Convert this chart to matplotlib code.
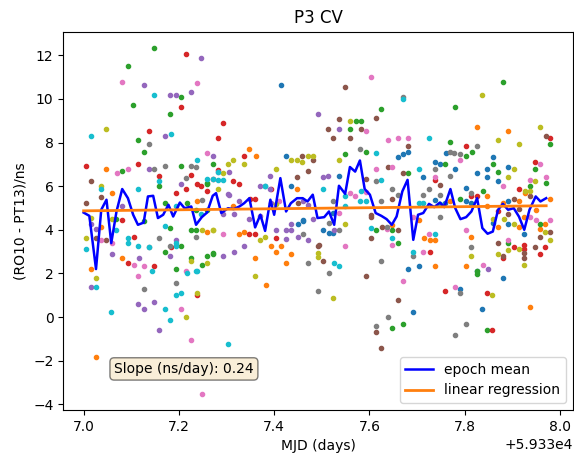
import numpy as np
import matplotlib
matplotlib.use('Agg')
import matplotlib.pyplot as plt

# MJD base, all times below are fractions of a day after it
mjd0 = 59337.0

# single-difference values (ns), one list pair per plotted group (colour C0..C9)
t_c0 = [0.414, 0.425, 0.436, 0.536, 0.659, 0.671, 0.681, 0.713, 0.737, 0.748, 0.760, 0.780, 0.826, 0.847,
        0.859, 0.847, 0.891, 0.870, 0.738, 0.759, 0.803, 0.803, 0.814, 0.891, 0.859, 0.891, 0.925, 0.826,
        0.880, 0.837, 0.692, 0.681, 0.703, 0.791, 0.381, 0.449, 0.460, 0.502, 0.515, 0.524, 0.524, 0.461]
v_c0 = [10.62, 7.39, 5.99, 6.49, 7.32, 7.49, 7.58, 6.40, 7.11, 7.01, 7.52, 6.78, 6.60, 6.78,
        7.32, 6.40, 6.90, 6.22, 5.38, 5.25, 5.90, 5.30, 5.22, 5.33, 4.31, 4.26, 3.82, 2.09,
        1.81, 0.39, 0.21, 2.20, 2.32, 1.29, 5.99, 4.28, 4.46, 4.00, 3.85, 4.77, 3.85, 4.41]

t_c1 = [0.048, 0.059, 0.037, 0.081, 0.016, 0.026, 0.237, 0.314, 0.347, 0.361, 0.448, 0.259, 0.326, 0.337,
        0.393, 0.414, 0.404, 0.436, 0.425, 0.360, 0.382, 0.648, 0.703, 0.714, 0.727, 0.738, 0.738, 0.803,
        0.826, 0.891, 0.847, 0.770, 0.880, 0.915, 0.980, 0.847, 0.949, 0.925, 0.969, 0.959, 0.870, 0.913,
        0.814, 0.926, 0.936]
v_c1 = [6.80, 5.68, 4.15, 2.70, 2.20, -1.84, 5.30, 5.07, 7.70, 7.39, 5.87, 3.89, 3.82, 3.92,
        3.27, 3.27, 3.00, 2.90, 2.47, 2.70, 1.48, 4.23, 4.46, 3.62, 3.51, 3.51, 2.32, 2.32,
        8.72, 8.53, 5.53, 5.30, 5.22, 5.33, 5.41, 5.07, 4.92, 4.58, 4.26, 4.03, 4.15, 4.15,
        3.69, 5.70, 0.48]

t_c2 = [0.148, 0.094, 0.204, 0.104, 0.182, 0.115, 0.126, 0.080, 0.205, 0.272, 0.158, 0.259, 0.170, 0.216,
        0.126, 0.069, 0.182, 0.170, 0.204, 0.193, 0.226, 0.259, 0.248, 0.272, 0.259, 0.236, 0.259, 0.226,
        0.236, 0.271, 0.624, 0.780, 0.880, 0.571, 0.582, 0.559, 0.549, 0.592, 0.769, 0.815, 0.802, 0.759,
        0.859, 0.869, 0.948, 0.980, 0.970, 0.938, 0.681, 0.838, 0.791, 0.614, 0.648, 0.660, 0.891, 0.959,
        0.826, 0.648, 0.670, 0.847, 0.826]
v_c2 = [12.32, 11.51, 10.09, 9.72, 9.29, 8.13, 7.59, 6.69, 6.94, 7.01, 5.99, 6.11, 5.22, 5.22,
        4.41, 4.49, 4.08, 3.00, 3.27, 2.20, 2.70, 2.78, 2.39, 2.93, 4.92, 4.92, 6.14, 4.00,
        4.00, 2.90, 9.52, 9.63, 10.80, 9.01, 9.01, 8.63, 7.49, 7.58, 8.01, 7.58, 7.39, 7.01,
        7.01, 6.67, 6.78, 7.93, 6.15, 5.99, 6.60, 5.79, 5.41, 4.00, 4.00, 3.39, 3.39, 4.26,
        1.98, -0.51, -0.31, -0.60, 2.12]

t_c3 = [0.214, 0.204, 0.293, 0.137, 0.282, 0.005, 0.115, 0.336, 0.158, 0.226, 0.237, 0.247, 0.259, 0.215,
        0.193, 0.282, 0.314, 0.326, 0.271, 0.393, 0.350, 0.360, 0.081, 0.105, 0.094, 0.148, 0.184, 0.237,
        0.348, 0.360, 0.404, 0.802, 0.980, 0.948, 0.737, 0.915, 0.826, 0.814, 0.870, 0.727, 0.903, 0.925,
        0.925, 0.959, 0.969, 0.880, 0.759, 0.847, 0.858]
v_c3 = [12.04, 9.63, 8.91, 8.53, 8.21, 6.94, 7.03, 7.39, 6.49, 6.52, 6.11, 5.99, 5.79, 5.88,
        5.70, 6.75, 6.22, 6.11, 6.33, 5.87, 5.41, 5.41, 4.43, 3.69, 2.47, 2.32, 3.19, 0.99,
        3.82, 3.82, 3.62, 7.82, 8.21, 7.11, 6.29, 5.87, 5.53, 5.53, 4.87, 3.00, 3.21, 3.31,
        3.11, 2.90, 3.21, 2.70, 1.20, 1.10, -0.60]

t_c4 = [0.247, 0.126, 0.182, 0.193, 0.226, 0.492, 0.170, 0.536, 0.272, 0.137, 0.205, 0.304, 0.326, 0.370,
        0.392, 0.392, 0.081, 0.016, 0.027, 0.059, 0.116, 0.193, 0.182, 0.115, 0.126, 0.147, 0.159, 0.016,
        0.293, 0.315, 0.348, 0.371, 0.435, 0.481, 0.404, 0.425, 0.449, 0.470, 0.337, 0.293, 0.315, 0.305,
        0.305, 0.460, 0.470, 0.393, 0.436, 0.425, 0.503, 0.514, 0.526, 0.848]
v_c4 = [11.89, 10.62, 10.19, 10.19, 10.33, 9.29, 8.31, 8.63, 7.39, 6.78, 6.11, 5.63, 5.32, 5.99,
        6.49, 5.86, 5.07, 4.28, 4.03, 2.90, 2.70, 3.54, 2.81, 0.59, 0.39, 0.68, -0.60, 1.40,
        4.72, 4.72, 4.49, 4.64, 4.28, 4.49, 4.00, 4.00, 3.69, 3.54, 3.27, 2.81, 3.00, 6.67,
        5.61, 5.30, 5.15, 5.22, 3.97, 3.57, 6.40, 6.49, 4.00, 2.20]

t_c5 = [0.016, 0.037, 0.005, 0.448, 0.459, 0.470, 0.482, 0.027, 0.048, 0.449, 0.549, 0.536, 0.614, 0.514,
        0.582, 0.524, 0.559, 0.681, 0.638, 0.592, 0.670, 0.648, 0.748, 0.970, 0.603, 0.603, 0.626, 0.603,
        0.660, 0.491, 0.503, 0.592, 0.659, 0.614, 0.624, 0.936, 0.903, 0.891, 0.913, 0.959, 0.980, 0.870,
        0.925, 0.925, 0.947, 0.880, 0.494]
v_c5 = [6.22, 5.50, 5.22, 6.42, 7.39, 6.69, 7.21, 3.62, 3.51, 5.22, 10.53, 9.09, 9.11, 8.63,
        8.63, 8.21, 8.21, 7.82, 6.90, 6.34, 6.60, 5.41, 6.06, 8.31, 4.69, 4.58, 4.15, 3.62,
        4.00, 3.27, 2.58, 1.90, 0.78, -0.69, -1.41, 5.53, 5.41, 4.72, 4.95, 3.69, 3.92, 3.39,
        2.93, 2.70, 3.21, 2.81, 3.31]

t_c6 = [0.081, 0.237, 0.070, 0.094, 0.259, 0.037, 0.059, 0.105, 0.115, 0.126, 0.204, 0.226, 0.248, 0.215,
        0.283, 0.293, 0.603, 0.592, 0.638, 0.659, 0.681, 0.614, 0.648, 0.737, 0.790, 0.880, 0.958, 0.970,
        0.938, 0.559, 0.570, 0.536, 0.549, 0.636, 0.648, 0.692, 0.725, 0.713, 0.670, 0.780, 0.803, 0.937,
        0.949, 0.980, 0.891, 0.838, 0.592, 0.411]
v_c6 = [10.80, 10.71, 6.60, 6.80, 7.50, 3.51, 3.39, 2.39, 1.90, 2.32, 0.39, -1.03, -3.54, 2.12,
        6.67, 3.82, 11.00, 8.53, 8.13, 8.21, 8.21, 6.78, 6.90, 6.40, 7.21, 5.99, 7.01, 6.40,
        6.29, 5.71, 5.53, 4.77, 3.24, 4.03, 3.31, 4.61, 3.82, 3.00, 1.66, 1.40, 4.00, 4.58,
        4.46, 4.43, 3.54, 2.39, 5.72, 5.30]

t_c7 = [0.137, 0.147, 0.170, 0.226, 0.215, 0.236, 0.137, 0.182, 0.159, 0.236, 0.126, 0.193, 0.248, 0.460,
        0.470, 0.491, 0.670, 0.581, 0.778, 0.791, 0.826, 0.770, 0.737, 0.770, 0.614, 0.624, 0.524, 0.713,
        0.726, 0.648, 0.660, 0.748, 0.814, 0.536, 0.515, 0.636, 0.748, 0.692, 0.625, 0.515, 0.814, 0.638,
        0.614, 0.791, 0.802, 0.780]
v_c7 = [7.93, 6.78, 6.94, 6.94, 6.37, 6.90, 3.21, 3.27, 3.62, 3.69, 1.29, 1.58, 5.38, 3.82,
        2.47, 1.20, 10.09, 7.70, 7.52, 7.49, 7.82, 7.58, 6.78, 6.49, 6.22, 5.30, 5.30, 5.61,
        5.87, 5.87, 5.61, 5.61, 5.68, 4.00, 4.31, 4.15, 4.58, 2.81, 2.58, 2.01, 3.21, -0.02,
        -0.40, 1.10, -0.31, -0.83]

t_c8 = [0.048, 0.436, 0.448, 0.459, 0.470, 0.482, 0.404, 0.304, 0.314, 0.336, 0.282, 0.293, 0.037, 0.016,
        0.059, 0.005, 0.027, 0.237, 0.215, 0.226, 0.259, 0.272, 0.248, 0.271, 0.371, 0.381, 0.360, 0.404,
        0.491, 0.491, 0.524, 0.549, 0.536, 0.559, 0.837, 0.957, 0.869, 0.915, 0.891, 0.903, 0.948, 0.926,
        0.938, 0.859, 0.882, 0.903, 0.969, 0.980, 0.891, 0.915, 0.870, 0.925, 0.814, 0.858]
v_c8 = [8.63, 7.21, 7.21, 7.11, 7.39, 7.39, 6.80, 7.01, 7.21, 7.01, 5.88, 6.60, 6.02, 4.54,
        4.49, 3.62, 1.81, 1.10, -0.02, 2.55, 2.47, 3.97, 4.00, 4.00, 3.54, 3.69, 1.90, 5.19,
        2.93, 2.75, 0.87, 4.26, 7.21, 9.01, 10.19, 8.72, 8.13, 7.93, 6.40, 6.78, 6.22, 5.79,
        5.78, 4.49, 4.49, 4.26, 3.92, 3.54, 3.08, 3.11, 2.90, 2.39, 2.81, 0.99]

t_c9 = [0.015, 0.184, 0.148, 0.037, 0.115, 0.158, 0.193, 0.237, 0.282, 0.282, 0.293, 0.259, 0.271, 0.381,
        0.005, 0.069, 0.094, 0.094, 0.115, 0.137, 0.170, 0.193, 0.193, 0.027, 0.058, 0.170, 0.182, 0.304,
        0.193, 0.204, 0.216, 0.237, 0.143, 0.247, 0.236, 0.670, 0.726, 0.614, 0.703, 0.503, 0.549, 0.581,
        0.592, 0.582, 0.549, 0.625, 0.703, 0.748, 0.713, 0.603, 0.648, 0.692, 0.526, 0.536, 0.738]
v_c9 = [8.31, 8.39, 10.19, 5.85, 5.88, 6.22, 5.07, 7.21, 6.67, 6.29, 6.29, 6.33, 6.33, 5.99,
        3.11, 4.00, 3.62, 3.39, 3.27, 3.19, 4.18, 3.39, 3.27, 1.40, 0.21, 0.39, -0.13, -1.22,
        1.02, 1.10, 2.01, 2.09, 2.09, 4.73, 2.09, 10.01, 8.21, 7.52, 6.78, 5.87, 5.07, 5.30,
        5.30, 5.79, 5.53, 6.29, 5.22, 5.18, 5.22, 4.08, 3.62, 3.00, 2.47, 2.32, 3.82]

groups = [(t_c0, v_c0), (t_c1, v_c1), (t_c2, v_c2), (t_c3, v_c3), (t_c4, v_c4),
          (t_c5, v_c5), (t_c6, v_c6), (t_c7, v_c7), (t_c8, v_c8), (t_c9, v_c9)]

# epoch mean
t_mean = [0.000, 0.012, 0.026, 0.037, 0.048, 0.058, 0.069, 0.081, 0.093, 0.104, 0.114, 0.126, 0.135, 0.146,
          0.156, 0.167, 0.178, 0.188, 0.202, 0.212, 0.226, 0.236, 0.248, 0.259, 0.271, 0.278, 0.289, 0.303,
          0.315, 0.327, 0.337, 0.348, 0.360, 0.371, 0.381, 0.392, 0.400, 0.413, 0.425, 0.435, 0.448, 0.460,
          0.470, 0.481, 0.491, 0.505, 0.515, 0.526, 0.536, 0.549, 0.559, 0.570, 0.580, 0.590, 0.601, 0.613,
          0.625, 0.636, 0.647, 0.657, 0.669, 0.680, 0.692, 0.702, 0.713, 0.725, 0.736, 0.748, 0.757, 0.770,
          0.780, 0.791, 0.803, 0.814, 0.826, 0.837, 0.848, 0.859, 0.870, 0.880, 0.891, 0.903, 0.914, 0.925,
          0.936, 0.949, 0.959, 0.971]
v_mean = [4.79, 4.64, 2.20, 4.92, 5.38, 3.39, 4.84, 5.87, 5.45, 4.69, 4.23, 4.33, 5.53, 5.56,
          4.54, 4.69, 5.15, 4.61, 5.25, 4.99, 5.07, 4.23, 4.58, 4.79, 5.56, 5.68, 4.77, 4.99,
          4.95, 5.07, 5.22, 5.45, 4.11, 4.69, 3.95, 5.38, 4.69, 6.37, 4.84, 5.22, 5.45, 5.45,
          5.30, 5.61, 4.54, 4.58, 4.84, 4.23, 6.02, 5.65, 6.88, 6.67, 7.18, 5.87, 5.61, 4.77,
          4.64, 4.49, 4.23, 4.61, 5.76, 6.29, 3.54, 4.69, 4.77, 5.19, 5.04, 5.25, 5.04, 5.87,
          5.00, 4.49, 4.58, 4.84, 5.45, 4.08, 3.82, 3.92, 4.92, 5.19, 4.92, 4.99, 4.60, 4.00,
          4.92, 5.53, 5.30, 5.45]

# linear regression
reg_intercept = 4.87   # ns at t = 0
reg_slope = 0.24       # ns/day

fig, ax = plt.subplots(figsize=(5.74, 4.54), dpi=100)
fig.subplots_adjust(left=0.11, right=0.998, top=0.93, bottom=0.097)

for t, v in groups:
    ax.plot(mjd0 + np.array(t), v, '.')

tm = mjd0 + np.array(t_mean)
ax.plot(tm, v_mean, color='b', lw=1.8, label='epoch mean')
ax.plot(tm, reg_intercept + reg_slope * np.array(t_mean), color='C1', lw=2, label='linear regression')

props = dict(boxstyle='round', facecolor='wheat', alpha=0.5)
ax.text(0.1, 0.09, 'Slope (ns/day): %.2f' % reg_slope, transform=ax.transAxes,
        fontsize=10, verticalalignment='bottom', bbox=props)

ax.set_xlim(mjd0 - 0.043, mjd0 + 1.027)
ax.set_ylim(-4.26, 13.08)
ax.set_title('P3 CV')
ax.set_xlabel('MJD (days)')
ax.set_ylabel('(RO10 - PT13)/ns')
ax.legend(loc='lower right')

fig.savefig('out.png')
